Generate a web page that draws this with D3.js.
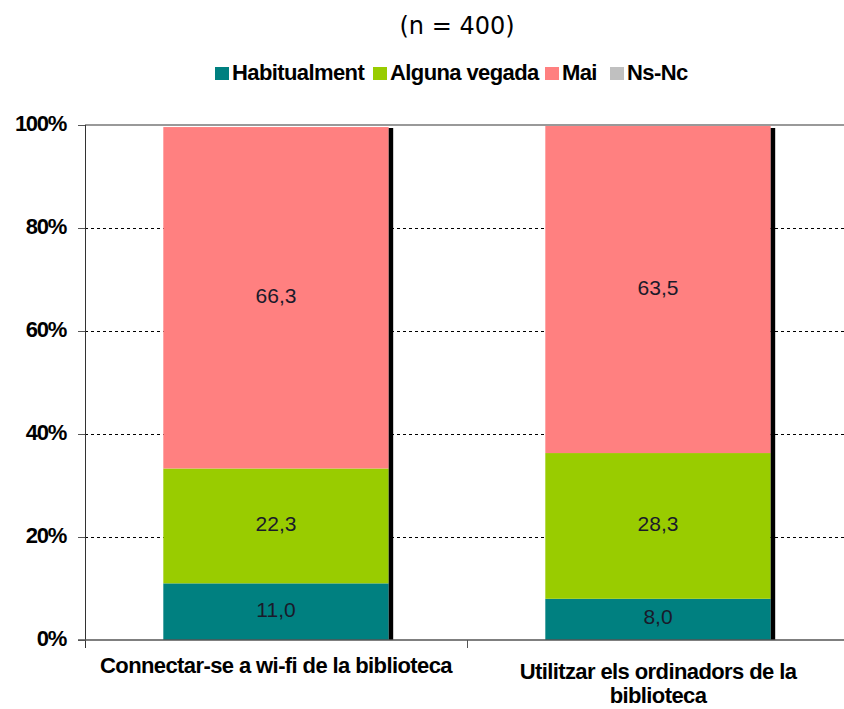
<!DOCTYPE html>
<html><head><meta charset="utf-8">
<script src="https://cdn.jsdelivr.net/npm/d3@7"></script>
<style>body{margin:0;background:#fff}svg{display:block}</style>
</head><body><svg id="c" width="844" height="709"></svg>
<script>
const categories = ["Connectar-se a wi-fi de la biblioteca", "Utilitzar els ordinadors de la biblioteca"];
const seriesNames = ["Habitualment", "Alguna vegada", "Mai", "Ns-Nc"];
const habitualment = [11.0, 8.0];
const algunaVegada = [22.3, 28.3];
const mai = [66.3, 63.5];
const nsnc = [0, 0];
const colors = ["#008080", "#99CC00", "#FF8080", "#C0C0C0"];
const yTicks = [0, 20, 40, 60, 80, 100];

const svg = d3.select("#c");
const L = 85, R = 849, T = 125, B = 640;
const x = d3.scaleBand().domain(categories).range([L, R]).paddingInner(0.41).paddingOuter(0.205);
const y = d3.scaleLinear().domain([0, 100]).range([B, T]);
const boldFont = "'Liberation Sans', Arial, sans-serif";

// title
svg.append("text").attr("x", 457).attr("y", 34).attr("text-anchor", "middle")
  .attr("font-family", "'DejaVu Sans', Verdana, sans-serif").attr("font-size", 24).attr("fill", "#000").text("(n = 400)");

// legend
const legX = [215, 373, 545, 610];
seriesNames.forEach((n, i) => {
  svg.append("rect").attr("x", legX[i]).attr("y", 67).attr("width", 14).attr("height", 13).attr("fill", colors[i]);
  svg.append("text").attr("x", legX[i] + 17).attr("y", 80).attr("font-family", boldFont).attr("font-weight", "bold")
    .attr("font-size", 22).attr("letter-spacing", -0.6).text(n);
});

// gridlines
yTicks.forEach(t => {
  if (t === 0) return;
  svg.append("line").attr("x1", L).attr("x2", 844).attr("y1", y(t)).attr("y2", y(t))
    .attr("stroke", t === 100 ? "#999" : "#000").attr("stroke-width", t === 100 ? 1.5 : 1)
    .attr("stroke-dasharray", t === 100 ? null : "3,3").attr("shape-rendering", "crispEdges");
});

// stacked data
const rows = categories.map((c, i) => ({cat: c, s0: habitualment[i], s1: algunaVegada[i], s2: mai[i], s3: nsnc[i]}));
const stack = d3.stack().keys(["s0", "s1", "s2", "s3"])(rows);
const labels = [habitualment, algunaVegada, mai];

stack.forEach((layer, li) => {
  svg.append("g").selectAll("rect").data(layer).join("rect")
    .attr("x", d => x(d.data.cat)).attr("width", x.bandwidth())
    .attr("y", d => y(d[1])).attr("height", d => y(d[0]) - y(d[1]))
    .attr("fill", colors[li]);
});
// shadow on right
categories.forEach(c => {
  svg.append("rect").attr("x", x(c) + x.bandwidth()).attr("width", 4.5).attr("y", y(100) + 3).attr("height", B - y(100) - 3).attr("fill", "#000");
});
stack.slice(0, 3).forEach((layer, li) => {
  svg.append("g").selectAll("text").data(layer).join("text")
    .attr("x", d => x(d.data.cat) + x.bandwidth() / 2).attr("y", d => y((d[0] + d[1]) / 2) + 5)
    .attr("text-anchor", "middle").attr("font-family", "'Liberation Sans', Arial, sans-serif").attr("font-size", 21)
    .attr("fill", "#1a1a2a").text((d, i) => labels[li][i].toFixed(1).replace(".", ","));
});

// y axis
svg.append("line").attr("x1", L).attr("x2", L).attr("y1", T).attr("y2", B + 8).attr("stroke", "#333").attr("shape-rendering", "crispEdges");
yTicks.forEach(t => {
  svg.append("line").attr("x1", L - 7).attr("x2", L).attr("y1", y(t)).attr("y2", y(t)).attr("stroke", "#555").attr("shape-rendering", "crispEdges");
  svg.append("text").attr("x", 66).attr("y", y(t) + 6).attr("text-anchor", "end").attr("font-family", boldFont)
    .attr("font-weight", "bold").attr("font-size", 22).attr("letter-spacing", -1.3).text(t + "%");
});
// x axis
svg.append("line").attr("x1", L - 7).attr("x2", 844).attr("y1", B).attr("y2", B).attr("stroke", "#555").attr("stroke-width", 1.5);
svg.append("line").attr("x1", (L + R) / 2).attr("x2", (L + R) / 2).attr("y1", B).attr("y2", B + 8).attr("stroke", "#555").attr("shape-rendering", "crispEdges");

const xLines = [["Connectar-se a wi-fi de la biblioteca"], ["Utilitzar els ordinadors de la", "biblioteca"]];
const xBase = [[673], [679, 703]];
categories.forEach((c, i) => {
  xLines[i].forEach((ln, j) => {
    svg.append("text").attr("x", x(c) + x.bandwidth() / 2).attr("y", xBase[i][j]).attr("text-anchor", "middle")
      .attr("font-family", boldFont).attr("font-weight", "bold").attr("font-size", 22).attr("letter-spacing", -0.6).text(ln);
  });
});
</script></body></html>
